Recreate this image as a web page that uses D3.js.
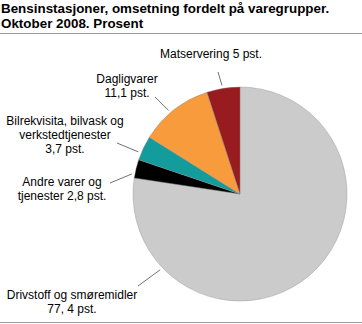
<!DOCTYPE html>
<html>
<head>
<meta charset="utf-8">
<script src="https://cdn.jsdelivr.net/npm/d3@7"></script>
<style>
  body { margin: 0; background: #fff; }
  svg { display: block; font-family: "Liberation Sans", Arial, sans-serif; }
  .title { font-weight: bold; font-size: 13.4px; fill: #000; }
  .slice-label { font-size: 12px; fill: #000; }
</style>
</head>
<body>
<svg id="chart" width="362" height="324"></svg>
<script>
// data
const categories = [
  "Drivstoff og smøremidler",
  "Andre varer og tjenester",
  "Bilrekvisita, bilvask og verkstedtjenester",
  "Dagligvarer",
  "Matservering"
];
const values = [77.4, 2.8, 3.7, 11.1, 5];
const labelLines = [
  ["Drivstoff og smøremidler", "77, 4 pst."],
  ["Andre varer og", "tjenester 2,8 pst."],
  ["Bilrekvisita, bilvask og", "verkstedtjenester", "3,7 pst."],
  ["Dagligvarer", "11,1 pst."],
  ["Matservering 5 pst."]
];
const colors = ["#cbcbcb", "#000000", "#149b9b", "#f79b3c", "#971b1f"];

// label placement (leader start angle on the rim, leader end, text anchor)
const leaderAngle = [226.5, 280.5, 292.5, 319.5, 350.6];
const leaderEnd = [[138, 286], [110, 183], [117, 143], [155, 97], [218, 72]];
const textAnchor = [[72, 299], [62, 186], [65, 125], [127, 83], [211, 58]];

const svg = d3.select("#chart");
const width = 362, height = 324;
const cx = 240, cy = 194, radius = 107;

// title
const title = svg.append("text").attr("class", "title");
title.append("tspan").attr("x", 1).attr("y", 13)
  .text("Bensinstasjoner, omsetning fordelt på varegrupper.");
title.append("tspan").attr("x", 1).attr("y", 28)
  .text("Oktober 2008. Prosent");

svg.append("line")
  .attr("x1", 0).attr("x2", width)
  .attr("y1", 33.5).attr("y2", 33.5)
  .attr("stroke", "#9a9a9a").attr("stroke-width", 1);
svg.append("line")
  .attr("x1", 0).attr("x2", width)
  .attr("y1", 322.5).attr("y2", 322.5)
  .attr("stroke", "#9a9a9a").attr("stroke-width", 1);

const pie = d3.pie().sort(null).value((d) => d);
const arc = d3.arc().innerRadius(0).outerRadius(radius);

const g = svg.append("g").attr("transform", `translate(${cx},${cy})`);

g.selectAll("path.slice")
  .data(pie(values))
  .join("path")
  .attr("class", "slice")
  .attr("d", arc)
  .attr("fill", (d, i) => colors[i])
  .attr("stroke", "#8a8a8a")
  .attr("stroke-width", 0.4);

// leaders
const rim = radius + 3;
svg.selectAll("line.leader")
  .data(categories)
  .join("line")
  .attr("class", "leader")
  .attr("x1", (d, i) => cx + rim * Math.sin(leaderAngle[i] * Math.PI / 180))
  .attr("y1", (d, i) => cy - rim * Math.cos(leaderAngle[i] * Math.PI / 180))
  .attr("x2", (d, i) => leaderEnd[i][0])
  .attr("y2", (d, i) => leaderEnd[i][1])
  .attr("stroke", "#333")
  .attr("stroke-width", 0.7);

// labels
const labels = svg.selectAll("text.slice-label")
  .data(labelLines)
  .join("text")
  .attr("class", "slice-label")
  .attr("text-anchor", "middle")
  .attr("y", (d, i) => textAnchor[i][1]);

labels.selectAll("tspan")
  .data((d, i) => d.map((t) => ({ t, i })))
  .join("tspan")
  .attr("x", (d) => textAnchor[d.i][0])
  .attr("dy", (d, j) => (j === 0 ? 0 : 14))
  .text((d) => d.t);
</script>
</body>
</html>
